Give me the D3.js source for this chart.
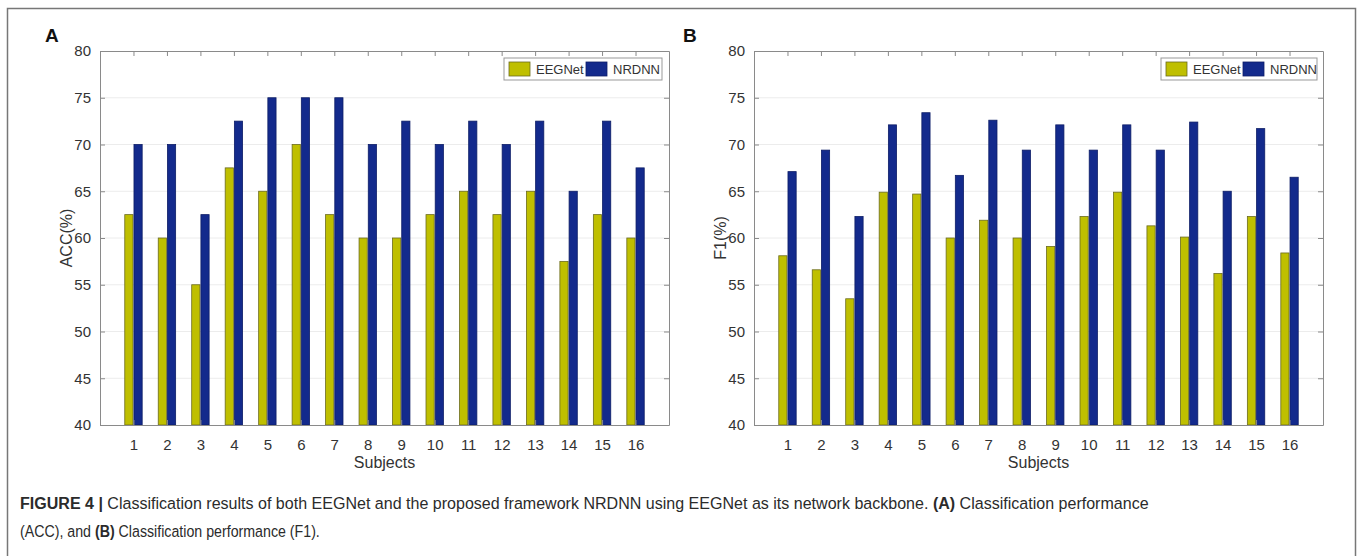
<!DOCTYPE html>
<html>
<head>
<meta charset="utf-8">
<script src="https://cdn.jsdelivr.net/npm/d3@7"></script>
<style>
  body { margin: 0; background: #fff; }
  svg text { font-family: "Liberation Sans", Arial, sans-serif; }
</style>
</head>
<body>
<div class="fig"></div>
<script>
var subjects = ["1","2","3","4","5","6","7","8","9","10","11","12","13","14","15","16"]
var seriesNames = ["EEGNet", "NRDNN"]
var accEEGNet = [62.5, 60, 55, 67.5, 65, 70, 62.5, 60, 60, 62.5, 65, 62.5, 65, 57.5, 62.5, 60]
var accNRDNN = [70, 70, 62.5, 72.5, 75, 75, 75, 70, 72.5, 70, 72.5, 70, 72.5, 65, 72.5, 67.5]
var f1EEGNet = [58.1, 56.6, 53.5, 64.9, 64.7, 60.0, 61.9, 60.0, 59.1, 62.3, 64.9, 61.3, 60.1, 56.2, 62.3, 58.4]
var f1NRDNN = [67.1, 69.4, 62.3, 72.1, 73.4, 66.7, 72.6, 69.4, 72.1, 69.4, 72.1, 69.4, 72.4, 65.0, 71.7, 66.5]
var yTicks = [40, 45, 50, 55, 60, 65, 70, 75, 80]

var width = 1360, height = 556
var colors = ["#bfbf00", "#132a8c"]
var edges = ["#6b6b20", "#0d1d66"]
var axisColor = "#8a8a8a", textColor = "#333333"

var svg = d3.select(".fig").append("svg")
    .attr("width", width)
    .attr("height", height)

// outer frame
svg.append("rect")
    .attr("x", 7.5).attr("y", 8.5)
    .attr("width", 1348).attr("height", 560)
    .attr("fill", "none")
    .attr("stroke", "#777")
    .attr("stroke-width", 1.5)

function drawPanel(opts){
  var g = svg.append("g").attr("transform", "translate(" + opts.left + "," + opts.top + ")")
  var w = opts.w, h = opts.h
  var x = d3.scaleLinear().domain([0, subjects.length + 1]).range([0, w])
  var y = d3.scaleLinear().domain([40, 80]).range([h, 0])
  var barW = x(0.245) - x(0)

  // grid
  g.selectAll(".grid").data(yTicks.slice(1, -1)).enter().append("line")
    .attr("x1", 0).attr("x2", w)
    .attr("y1", d => y(d)).attr("y2", d => y(d))
    .attr("stroke", "#ececec").attr("stroke-width", 1)

  // bars
  var series = [opts.a, opts.b]
  series.forEach((vals, s) => {
    g.selectAll(".bar" + s).data(vals).enter().append("rect")
      .attr("x", (d, i) => x(i + 1) + (s === 0 ? -barW - 0.5 : 0.5))
      .attr("y", d => y(d))
      .attr("width", barW)
      .attr("height", d => h - y(d))
      .attr("fill", colors[s])
      .attr("stroke", edges[s])
      .attr("stroke-width", 0.8)
  })

  // axes with inward ticks (box on)
  var xAxis = d3.axisBottom(x).tickValues(d3.range(1, subjects.length + 1))
      .tickFormat((d) => subjects[d - 1]).tickSizeInner(-5).tickSizeOuter(0).tickPadding(14)
  var yAxis = d3.axisLeft(y).tickValues(yTicks).tickSizeInner(-5).tickSizeOuter(0).tickPadding(9)
  var xTop = d3.axisTop(x).tickValues(d3.range(1, subjects.length + 1)).tickFormat("").tickSizeInner(-5).tickSizeOuter(0)
  var yRight = d3.axisRight(y).tickValues(yTicks).tickFormat("").tickSizeInner(-5).tickSizeOuter(0)

  var gx = g.append("g").attr("transform", "translate(0," + h + ")").call(xAxis)
  var gy = g.append("g").call(yAxis)
  var gt = g.append("g").call(xTop)
  var gr = g.append("g").attr("transform", "translate(" + w + ",0)").call(yRight)
  ;[gx, gy, gt, gr].forEach(a => {
    a.select(".domain").attr("stroke", axisColor)
    a.selectAll(".tick line").attr("stroke", axisColor)
    a.selectAll(".tick text").attr("fill", textColor)
      .style("font-size", "15px").style("font-family", '"Liberation Sans", Arial, sans-serif')
  })

  g.append("text")
    .text("Subjects")
    .attr("x", w / 2).attr("y", h + 43)
    .attr("text-anchor", "middle")
    .attr("fill", textColor)
    .style("font-size", "16px")

  g.append("text")
    .text(opts.ylabel)
    .attr("transform", "translate(" + opts.ylabelX + "," + (h / 2) + ") rotate(-90)")
    .attr("text-anchor", "middle")
    .attr("fill", textColor)
    .style("font-size", "16px")

  g.append("text")
    .text(opts.letter)
    .attr("x", opts.letterX).attr("y", -9)
    .attr("fill", "#111")
    .style("font-size", "19px")
    .style("font-weight", "bold")

  // legend
  var lg = g.append("g").attr("transform", "translate(" + opts.legendX + ",7)")
  lg.append("rect").attr("width", opts.legendW).attr("height", 22)
    .attr("fill", "#fff").attr("stroke", "#999").attr("stroke-width", 1)
  var offs = [5, 82]
  seriesNames.forEach((name, s) => {
    lg.append("rect")
      .attr("x", offs[s]).attr("y", 4)
      .attr("width", 21).attr("height", 14)
      .attr("fill", colors[s]).attr("stroke", edges[s]).attr("stroke-width", 0.8)
    lg.append("text")
      .text(name)
      .attr("x", offs[s] + 27).attr("y", 16)
      .attr("fill", textColor)
      .style("font-size", "13px")
  })
}

drawPanel({ left: 100, top: 51, w: 569, h: 374, a: accEEGNet, b: accNRDNN,
  ylabel: "ACC(%)", ylabelX: -28, letter: "A", letterX: -55, legendX: 404, legendW: 158 })
drawPanel({ left: 754, top: 51, w: 569, h: 374, a: f1EEGNet, b: f1NRDNN,
  ylabel: "F1(%)", ylabelX: -28, letter: "B", letterX: -71, legendX: 407, legendW: 156 })

// caption: condensed look by horizontal scaling to the reference widths
function captionLine(yPos, parts, targetW){
  var g = svg.append("g")
  var t = g.append("text").attr("x", 0).attr("y", 0)
    .style("font-size", "17px").attr("fill", "#2b2b2b")
  parts.forEach(p => {
    t.append("tspan").text(p[0]).style("font-weight", p[1] ? "bold" : "normal")
  })
  var natural = t.node().getComputedTextLength()
  g.attr("transform", "translate(20," + yPos + ") scale(" + (targetW / natural) + ",1)")
}
captionLine(509, [["FIGURE 4 | ", true],
  ["Classification results of both EEGNet and the proposed framework NRDNN using EEGNet as its network backbone. ", false],
  ["(A)", true], [" Classification performance", false]], 1130)
captionLine(537, [["(ACC), and ", false], ["(B)", true],
  [" Classification performance (F1).", false]], 300)
</script>
</body>
</html>
